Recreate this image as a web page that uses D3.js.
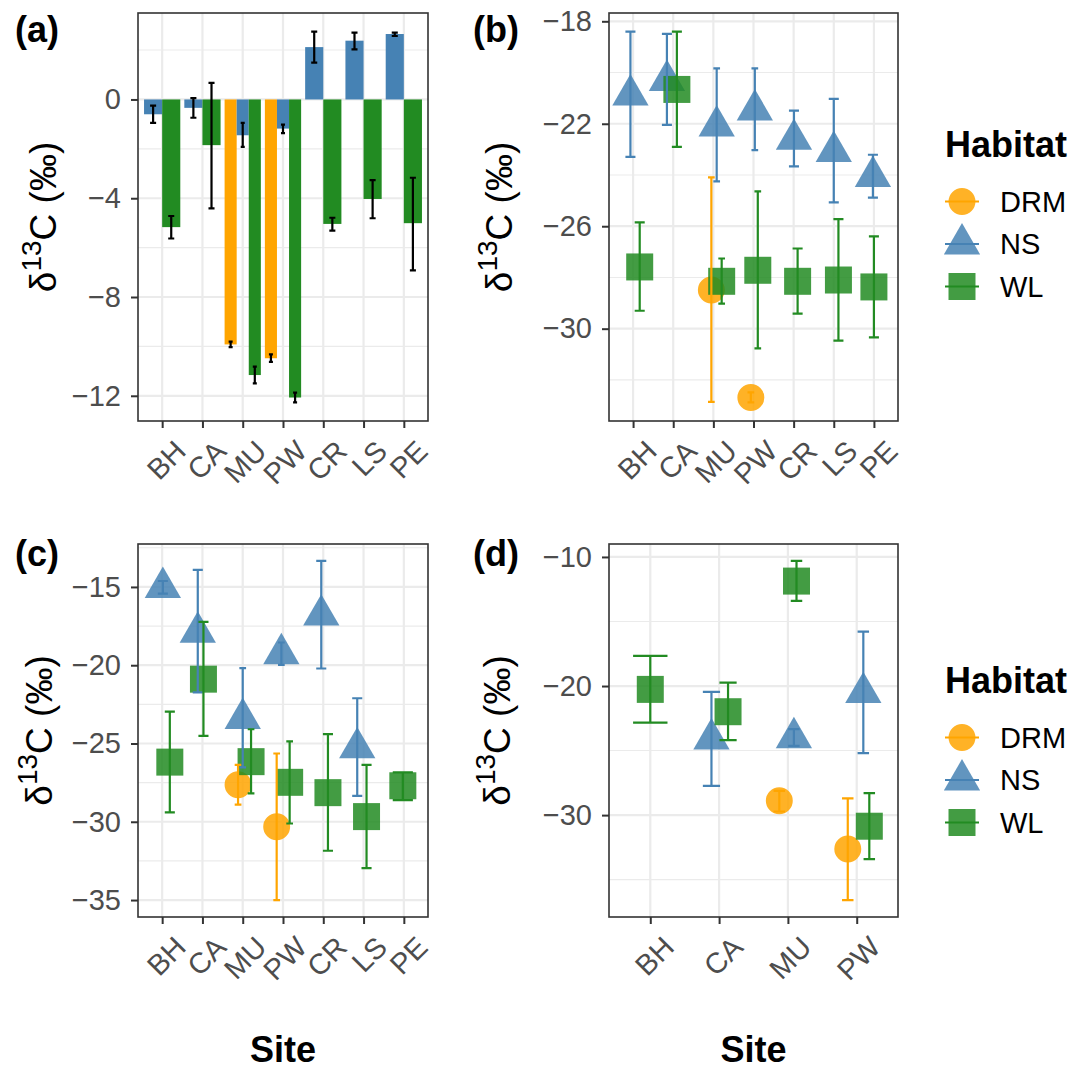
<!DOCTYPE html>
<html>
<head>
<meta charset="utf-8">
<script src="https://cdn.jsdelivr.net/npm/d3@7"></script>
<style>
  body { margin: 0; background: #fff; }
  svg { font-family: 'Liberation Sans', Arial, sans-serif; }
</style>
</head>
<body>
<svg width="1072" height="1072"></svg>
<script>
const sitesAll = ['BH', 'CA', 'MU', 'PW', 'CR', 'LS', 'PE'];
const sitesD = ['BH', 'CA', 'MU', 'PW'];
const habitats = ['DRM', 'NS', 'WL'];
const habColors = ['#FFA500', '#4682B4', '#228B22'];

// (a) bars: [site, habitat, mean, upper, lower]
const barsA = [
  ['BH', 'NS', -0.60, -0.25, -0.95], ['BH', 'WL', -5.17, -4.72, -5.63],
  ['CA', 'NS', -0.34, 0.05, -0.74], ['CA', 'WL', -1.85, 0.67, -4.41],
  ['MU', 'DRM', -9.92, -9.81, -10.03], ['MU', 'NS', -1.45, -0.95, -1.92], ['MU', 'WL', -11.16, -10.82, -11.50],
  ['PW', 'DRM', -10.48, -10.32, -10.63], ['PW', 'NS', -1.18, -1.02, -1.36], ['PW', 'WL', -12.07, -11.87, -12.27],
  ['CR', 'NS', 2.12, 2.75, 1.49], ['CR', 'WL', -5.04, -4.79, -5.31],
  ['LS', 'NS', 2.38, 2.71, 2.03], ['LS', 'WL', -4.03, -3.27, -4.81],
  ['PE', 'NS', 2.65, 2.71, 2.57], ['PE', 'WL', -5.01, -3.17, -6.92]
];
// (b)-(d) points: [site, habitat, mean, upper, lower, jitter in site units]
const pointsB = [
  ['BH', 'NS', -20.88, -18.40, -23.29, -0.066], ['BH', 'WL', -27.59, -25.85, -29.30, 0.165],
  ['CA', 'NS', -20.31, -18.49, -22.04, -0.157], ['CA', 'WL', -20.66, -18.40, -22.90, 0.091],
  ['MU', 'DRM', -28.49, -24.09, -32.86, -0.05], ['MU', 'NS', -22.09, -19.84, -24.25, 0.083], ['MU', 'WL', -28.15, -27.26, -29.02, 0.207],
  ['PW', 'DRM', -32.69, -32.49, -32.88, -0.066], ['PW', 'NS', -21.46, -19.84, -23.03, 0.033], ['PW', 'WL', -27.72, -24.64, -30.77, 0.107],
  ['CR', 'NS', -22.61, -21.49, -23.66, 0.008], ['CR', 'WL', -28.15, -26.87, -29.41, 0.099],
  ['LS', 'NS', -23.08, -21.03, -25.07, 0], ['LS', 'WL', -28.10, -25.72, -30.47, 0.116],
  ['PE', 'NS', -24.06, -23.21, -24.88, -0.025], ['PE', 'WL', -28.37, -26.40, -30.34, 0]
];
const pointsC = [
  ['BH', 'NS', -15.04, -14.62, -15.43, 0.017], ['BH', 'WL', -26.19, -22.96, -29.40, 0.19],
  ['CA', 'NS', -17.89, -13.91, -21.74, -0.116], ['CA', 'WL', -20.89, -17.23, -24.51, 0.025],
  ['MU', 'DRM', -27.64, -26.36, -28.91, -0.116], ['MU', 'NS', -23.40, -20.19, -26.53, 0], ['MU', 'WL', -26.16, -24.09, -28.19, 0.207],
  ['PW', 'DRM', -30.32, -25.64, -35.00, -0.157], ['PW', 'NS', -19.27, -18.55, -19.98, -0.041], ['PW', 'WL', -27.48, -24.87, -30.11, 0.165],
  ['CR', 'NS', -16.80, -13.34, -20.21, -0.05], ['CR', 'WL', -28.14, -24.40, -31.85, 0.116],
  ['LS', 'NS', -25.28, -22.11, -28.34, -0.157], ['LS', 'WL', -29.67, -26.36, -32.96, 0.074],
  ['PE', 'WL', -27.70, -26.85, -28.62, -0.025]
];
const pointsD = [
  ['BH', 'WL', -20.26, -17.66, -22.83, 0],
  ['CA', 'NS', -24.10, -20.45, -27.73, -0.111], ['CA', 'WL', -21.99, -19.73, -24.19, 0.13],
  ['MU', 'DRM', -28.89, -28.12, -29.72, -0.125], ['MU', 'NS', -24.01, -23.34, -24.63, 0.087], ['MU', 'WL', -11.87, -10.31, -13.41, 0.125],
  ['PW', 'DRM', -32.63, -28.71, -36.58, -0.13], ['PW', 'NS', -20.51, -15.78, -25.20, 0.096], ['PW', 'WL', -30.86, -28.30, -33.41, 0.183]
];

const ticksA = [-12, -8, -4, 0], minorA = [-10, -6, -2, 2];
const ticksB = [-30, -26, -22, -18], minorB = [-32, -28, -24, -20];
const ticksC = [-35, -30, -25, -20, -15], minorC = [-32.5, -27.5, -22.5, -17.5, -12.5];
const ticksD = [-30, -20, -10], minorD = [-35, -25, -15];

const svg = d3.select('svg');
const color = d3.scaleOrdinal().domain(habitats).range(habColors);
const shape = d3.scaleOrdinal().domain(habitats)
  .range([d3.symbolCircle, d3.symbolTriangle, d3.symbolSquare]);
const symSize = { DRM: 570, NS: 570, WL: 729 };
const symbol = h => d3.symbol().type(shape(h)).size(symSize[h])();

function drawPanel(cfg) {
  const { rows, sites, box, ticks, minor, bars } = cfg;
  const g = svg.append('g');

  const vals = rows.flatMap(r => [r[3], r[4]]);
  if (bars) vals.push(0);
  const [lo, hi] = d3.extent(vals);
  const pad = (hi - lo) * 0.05;

  const x = d3.scalePoint().domain(sites).range([box.x0, box.x1]).padding(0.6);
  const y = d3.scaleLinear().domain([lo - pad, hi + pad]).range([box.y1, box.y0]);
  const step = x.step();

  g.append('rect')
    .attr('x', box.x0).attr('y', box.y0)
    .attr('width', box.x1 - box.x0).attr('height', box.y1 - box.y0)
    .attr('fill', '#fff');

  g.append('g').selectAll('line')
    .data(minor.filter(v => v > y.domain()[0] && v < y.domain()[1]))
    .join('line')
      .attr('x1', box.x0).attr('x2', box.x1)
      .attr('y1', d => y(d)).attr('y2', d => y(d))
      .attr('stroke', '#EBEBEB').attr('stroke-width', 1.1);
  g.append('g').selectAll('line').data(ticks).join('line')
    .attr('x1', box.x0).attr('x2', box.x1)
    .attr('y1', d => y(d)).attr('y2', d => y(d))
    .attr('stroke', '#EBEBEB').attr('stroke-width', 2.2);
  g.append('g').selectAll('line').data(sites).join('line')
    .attr('x1', d => x(d)).attr('x2', d => x(d))
    .attr('y1', box.y0).attr('y2', box.y1)
    .attr('stroke', '#EBEBEB').attr('stroke-width', 2.2);

  // which habitats are present at each site, in legend order
  const bySite = d3.group(rows, r => r[0]);
  const slot = r => {
    const list = bySite.get(r[0]).map(d => d[1]).sort((a, b) => habitats.indexOf(a) - habitats.indexOf(b));
    return { n: list.length, i: list.indexOf(r[1]) };
  };

  let items;
  if (bars) {
    items = rows.map(r => {
      const { n, i } = slot(r);
      const w = 0.9 * step / n;
      return { r, cx: x(r[0]) + (i - (n - 1) / 2) * w, w, cap: 0.3 * step / n };
    });
    g.append('g').selectAll('rect').data(items).join('rect')
      .attr('x', d => d.cx - d.w / 2)
      .attr('width', d => d.w)
      .attr('y', d => Math.min(y(0), y(d.r[2])))
      .attr('height', d => Math.abs(y(d.r[2]) - y(0)))
      .attr('fill', d => color(d.r[1]));
  } else {
    items = rows.map(r => {
      const { n } = slot(r);
      return { r, cx: x(r[0]) + r[5] * step, cap: 0.5 * step / n };
    });
    g.append('g').selectAll('path').data(items).join('path')
      .attr('transform', d => `translate(${d.cx},${y(d.r[2])})`)
      .attr('d', d => symbol(d.r[1]))
      .attr('fill', d => color(d.r[1]))
      .attr('fill-opacity', 0.85);
  }

  g.append('g').selectAll('path').data(items).join('path')
    .attr('d', d => {
      const t = y(d.r[3]), b = y(d.r[4]), c = d.cap / 2;
      return `M${d.cx - c},${t}H${d.cx + c}M${d.cx},${t}V${b}M${d.cx - c},${b}H${d.cx + c}`;
    })
    .attr('fill', 'none')
    .attr('stroke', d => bars ? '#000' : color(d.r[1]))
    .attr('stroke-width', 2.2);

  g.append('rect')
    .attr('x', box.x0).attr('y', box.y0)
    .attr('width', box.x1 - box.x0).attr('height', box.y1 - box.y0)
    .attr('fill', 'none').attr('stroke', '#333').attr('stroke-width', 1.6);

  const yAxis = g.append('g')
    .attr('transform', `translate(${box.x0},0)`)
    .call(d3.axisLeft(y).tickValues(ticks).tickSize(7).tickPadding(10).tickFormat(d3.format('d')));
  const xAxis = g.append('g')
    .attr('transform', `translate(0,${box.y1})`)
    .call(d3.axisBottom(x).tickSize(7));
  [yAxis, xAxis].forEach(a => {
    a.select('.domain').remove();
    a.attr('font-family', null).attr('font-size', null);
    a.selectAll('line').attr('stroke', '#333').attr('stroke-width', 2);
    a.selectAll('text').attr('fill', '#4D4D4D').style('font-size', '29px');
  });
  xAxis.selectAll('text')
    .attr('y', null).attr('dy', null)
    .attr('text-anchor', 'end')
    .attr('transform', 'translate(25,32) rotate(-45)');

  // y title
  const yt = svg.append('text')
    .attr('transform', `translate(${cfg.titleX},${(box.y0 + box.y1) / 2}) rotate(-90)`)
    .attr('text-anchor', 'middle')
    .style('font-size', '37px')
    .attr('fill', '#000');
  yt.append('tspan').text('δ');
  yt.append('tspan').text('13').style('font-size', '28px').attr('dy', -15);
  yt.append('tspan').text('C (‰)').attr('dy', 15);

  svg.append('text')
    .attr('x', cfg.tag[0]).attr('y', cfg.tag[1])
    .style('font-size', '36px').style('font-weight', 'bold')
    .text(cfg.label);

  if (cfg.xTitle) {
    svg.append('text')
      .attr('x', (box.x0 + box.x1) / 2).attr('y', 1062)
      .attr('text-anchor', 'middle')
      .style('font-size', '36px').style('font-weight', 'bold')
      .text('Site');
  }
}

function drawLegend(top) {
  const lg = svg.append('g');
  lg.append('text')
    .attr('x', 945).attr('y', top)
    .style('font-size', '36px').style('font-weight', 'bold')
    .text('Habitat');
  const row = lg.selectAll('g.key').data(habitats).join('g')
    .attr('class', 'key')
    .attr('transform', (d, i) => `translate(962,${top + 44.5 + i * 42.5})`);
  row.append('path')
    .attr('d', d => symbol(d))
    .attr('fill', d => color(d)).attr('fill-opacity', 0.85);
  row.append('line')
    .attr('x1', -17).attr('x2', 17)
    .attr('stroke', d => color(d)).attr('stroke-width', 2.2);
  row.append('text')
    .attr('x', 38).attr('dy', '0.36em')
    .style('font-size', '29px')
    .text(d => d);
}

drawPanel({ rows: barsA, sites: sitesAll, bars: true, ticks: ticksA, minor: minorA,
  box: { x0: 138, x1: 428, y0: 13, y1: 421 }, titleX: 56, tag: [15, 42], label: '(a)' });
drawPanel({ rows: pointsB, sites: sitesAll, ticks: ticksB, minor: minorB,
  box: { x0: 609, x1: 898, y0: 13, y1: 421 }, titleX: 512, tag: [473, 42], label: '(b)' });
drawPanel({ rows: pointsC, sites: sitesAll, ticks: ticksC, minor: minorC,
  box: { x0: 138, x1: 428, y0: 544, y1: 917 }, titleX: 52, tag: [15, 566], label: '(c)', xTitle: true });
drawPanel({ rows: pointsD, sites: sitesD, ticks: ticksD, minor: minorD,
  box: { x0: 609, x1: 898, y0: 544, y1: 917 }, titleX: 510, tag: [473, 566], label: '(d)', xTitle: true });

drawLegend(157);
drawLegend(693);
</script>
</body>
</html>
